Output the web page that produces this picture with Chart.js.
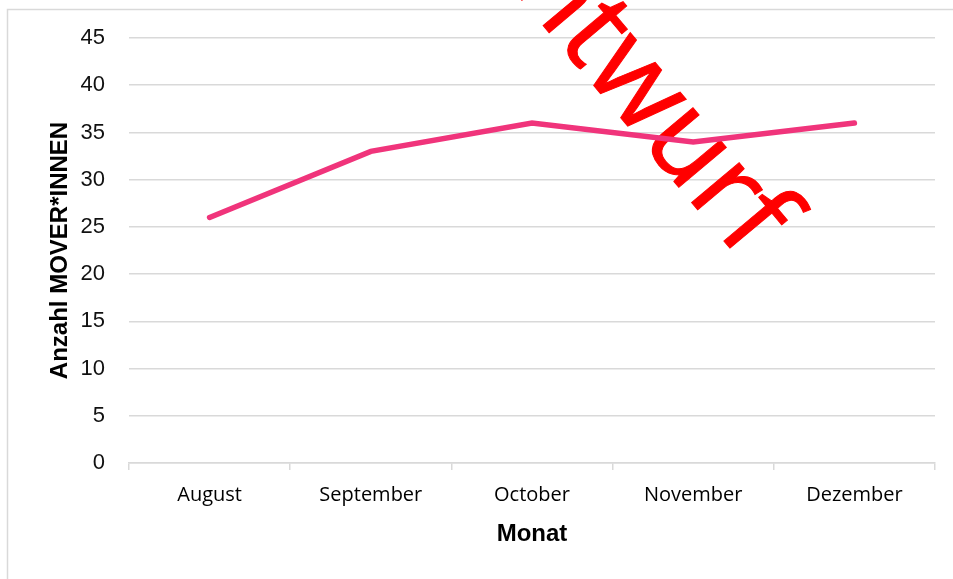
<!DOCTYPE html>
<html>
<head>
<meta charset="utf-8">
<script src="https://cdn.jsdelivr.net/npm/chart.js@4/dist/chart.umd.min.js"></script>
<style>
html,body{margin:0;padding:0;background:#fff;overflow:hidden;}
#wrap{position:absolute;left:0;top:0;width:953px;height:579px;}
</style>
</head>
<body>
<div id="wrap"><canvas id="c" width="953" height="579"></canvas></div>
<script>
const months = ["August", "September", "October", "November", "Dezember"];
const movers = [26, 33, 36, 34, 36];
const yTicks = [0, 5, 10, 15, 20, 25, 30, 35, 40, 45];
const xTitle = "Monat";
const yTitle = "Anzahl MOVER*INNEN";
const watermark = "Entwurf";

const framePlugin = {
  id: 'frame',
  beforeDraw(chart) {
    const ctx = chart.ctx;
    ctx.save();
    ctx.strokeStyle = '#d9d9d9';
    ctx.lineWidth = 1.5;
    ctx.beginPath();
    ctx.moveTo(7.5, 579);
    ctx.lineTo(7.5, 9.5);
    ctx.lineTo(953, 9.5);
    ctx.stroke();
    ctx.restore();
  }
};

const watermarkPlugin = {
  id: 'watermark',
  beforeDatasetsDraw(chart) {
    const ctx = chart.ctx;
    ctx.save();
    ctx.translate(468, -64);
    ctx.rotate(50 * Math.PI / 180);
    ctx.font = '116px "Open Sans"';
    ctx.fillStyle = '#ff0000';
    ctx.strokeStyle = '#ff0000';
    ctx.lineWidth = 1;
    ctx.textAlign = 'left';
    ctx.textBaseline = 'alphabetic';
    ctx.fillText(watermark, 0, 0);
    ctx.strokeText(watermark, 0, 0);
    ctx.restore();
  }
};

new Chart(document.getElementById('c'), {
  type: 'line',
  data: {
    labels: months,
    datasets: [{
      data: movers,
      borderColor: '#f0347b',
      borderWidth: 5.5,
      pointRadius: 0,
      pointHoverRadius: 0,
      borderCapStyle: 'round',
      borderJoinStyle: 'miter',
      tension: 0,
      fill: false
    }]
  },
  options: {
    responsive: false,
    animation: false,
    devicePixelRatio: 1,
    layout: { padding: { left: 0, right: 18, top: 38, bottom: 0 } },
    plugins: { legend: { display: false }, tooltip: { enabled: false } },
    scales: {
      x: {
        type: 'category',
        offset: true,
        grid: { display: true, drawOnChartArea: false, drawTicks: true, tickLength: 7, color: '#d9d9d9', lineWidth: 1.5, offset: true },
        border: { display: true, color: '#d9d9d9', width: 1.5 },
        ticks: { color: '#000', font: { family: '"Open Sans"', size: 20 }, padding: 13, maxRotation: 0, autoSkip: false },
        title: { display: true, text: xTitle, color: '#000', font: { family: '"Liberation Sans"', size: 24, weight: 'bold' }, padding: { top: 0, bottom: 30 } },
        afterFit(scale) { scale.height = 116; }
      },
      y: {
        min: 0,
        max: 45,
        afterBuildTicks(scale) { scale.ticks = yTicks.map(v => ({ value: v })); },
        grid: { color: '#d9d9d9', lineWidth: 1.5, drawTicks: false },
        border: { display: false },
        ticks: { color: '#111', font: { family: '"Liberation Sans"', size: 22 }, padding: 24 },
        title: { display: true, text: yTitle, color: '#000', font: { family: '"Liberation Sans"', size: 24, weight: 'bold' }, padding: { top: 46, bottom: 0 } },
        afterFit(scale) { scale.width = 129; }
      }
    }
  },
  plugins: [framePlugin, watermarkPlugin]
});
</script>
</body>
</html>
